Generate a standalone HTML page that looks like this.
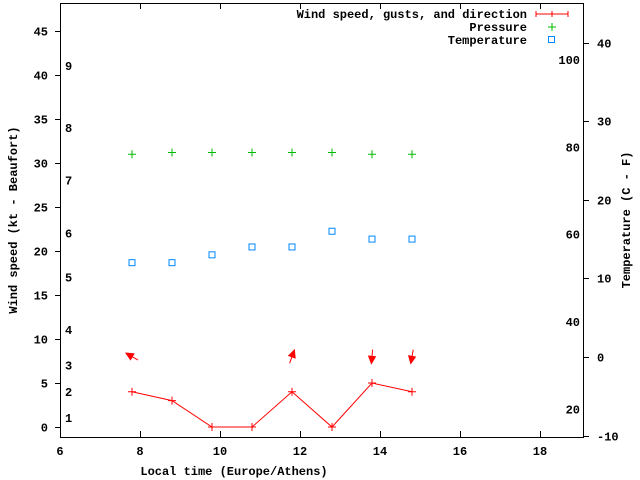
<!DOCTYPE html>
<html><head><meta charset="utf-8"><style>
body{margin:0;background:#fff}
svg{display:block;font-family:"Liberation Mono",monospace;font-size:12px;font-weight:bold}
</style></head><body>
<svg id="c" width="640" height="480" viewBox="0 0 640 480">
<rect x="60.5" y="3.5" width="523" height="434" fill="none" stroke="#000"/>
<g id="g"></g>
<text x="234" y="475" text-anchor="middle">Local time (Europe/Athens)</text>
<text transform="translate(17,220) rotate(-90)" text-anchor="middle">Wind speed (kt - Beaufort)</text>
<text transform="translate(630,220) rotate(-90)" text-anchor="middle">Temperature (C - F)</text>
<g>
<text x="527" y="18" text-anchor="end">Wind speed, gusts, and direction</text>
<path d="M536 14H568M536 11V17M568 11V17M552 11V17" stroke="#f00"/>
<text x="527" y="31" text-anchor="end">Pressure</text>
<path d="M548 27H556M552 23V31" stroke="#0b0"/>
<text x="527" y="44" text-anchor="end">Temperature</text>
<rect x="548.5" y="36.5" width="6" height="6" fill="none" stroke="#08f"/>
</g>
</svg>
<script>
const times=[7.8,8.8,9.8,10.8,11.8,12.8,13.8,14.8];
const wind=[4,3,0,0,4,0,5,4];
const pressure=[31,31.2,31.2,31.2,31.2,31.2,31,31];
const temperature=[12,12,13,14,14,16,15,15];
const dirY=[8,8,8,8,8,8,8,8];
const dirAngle=[-150,-150,-150,-150,-70,-150,95,100];
const dirShow=[1,0,0,0,1,0,1,1];
const xTicks=[6,8,10,12,14,16,18];
const yTicks=[0,5,10,15,20,25,30,35,40,45];
const y2Ticks=[-10,0,10,20,30,40];
const beaufort=[[1,1],[2,4],[3,7],[4,11],[5,17],[6,22],[7,28],[8,34],[9,41]];
const fahr=[20,40,60,80,100];
const X=v=>60+(v-6)*40, Y=v=>427-v*8.8, Y2=v=>357-v*7.86;
const g=document.getElementById('g'),NS='http://www.w3.org/2000/svg';
function mk(t,a,txt){const e=document.createElementNS(NS,t);for(const k in a)e.setAttribute(k,a[k]);if(txt!=null)e.textContent=txt;g.appendChild(e);return e;}
xTicks.forEach(v=>{const x=X(v)+.5;
const e=mk('path',{d:`M${x} 437V431M${x} 3V9`,stroke:'#000'});


const t=mk('text',{x:X(v),y:455,'text-anchor':'middle'},v);

});
yTicks.forEach(v=>{const y=Math.round(Y(v))+.5;
const e=mk('path',{d:`M55 ${y}H60`,stroke:'#000'});


const t=mk('text',{x:48,y:y+4,'text-anchor':'end'},v);

});
y2Ticks.forEach(v=>{const y=Math.round(Y2(v))+.5;
const e=mk('path',{d:`M584 ${y}H589`,stroke:'#000'});


const t=mk('text',{x:597,y:y+4},v);

});
beaufort.forEach(b=>{const t=mk('text',{x:65,y:Y(b[1])+4},b[0]);

});
fahr.forEach(f=>{const t=mk('text',{x:580,y:Y2((f-32)*5/9)+4,'text-anchor':'end'},f);

});
const l=mk('polyline',{points:times.map((t,i)=>X(t)+','+Y(wind[i])).join(' '),fill:'none',stroke:'#f00'});


times.forEach((t,i)=>{const x=X(t),y=Y(wind[i]);
const e=mk('path',{d:`M${x-4} ${y}H${x+4}M${x} ${y-4}V${y+4}`,stroke:'#f00'});


const py=Y(pressure[i]);
const p=mk('path',{d:`M${x-4} ${py}H${x+4}M${x} ${py-4}V${py+4}`,stroke:'#0b0'});


const ty=Y2(temperature[i]);
const r=mk('rect',{x:x-3,y:ty-3,width:6,height:6,fill:'none',stroke:'#08f'});


if(dirShow[i]){const a=dirAngle[i]*Math.PI/180,cx=x,cy=Y(dirY[i]);
const hx=cx+7*Math.cos(a),hy=cy+7*Math.sin(a),tx=cx-7*Math.cos(a),ty2=cy-7*Math.sin(a);
const b1=a+2.7,b2=a-2.7;
const ar=mk('path',{d:`M${tx} ${ty2}L${hx} ${hy}M${hx} ${hy}L${hx+8*Math.cos(b1)} ${hy+8*Math.sin(b1)}L${hx+8*Math.cos(b2)} ${hy+8*Math.sin(b2)}Z`,stroke:'#f00',fill:'#f00'});

}
});
</script>
</body></html>
